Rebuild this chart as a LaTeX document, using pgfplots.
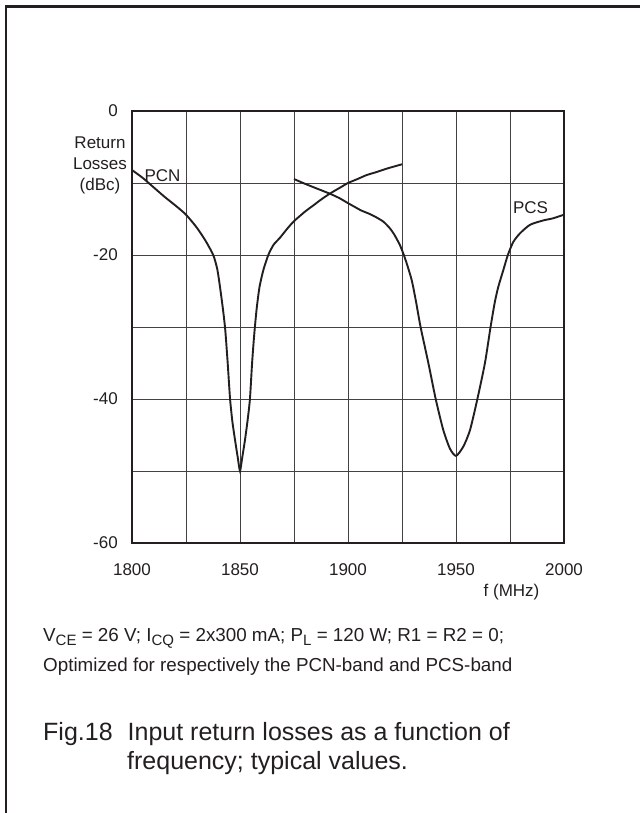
\documentclass[border=0pt]{standalone}
\usepackage{fontspec}
\setmainfont{Liberation Sans}
\usepackage{pgfplots}
\pgfplotsset{compat=1.18}
\definecolor{ink}{HTML}{231F20}
\newcommand\sub[1]{\raisebox{-0.22em}{\fontsize{15}{15}\selectfont #1}}

\begin{document}
\begin{tikzpicture}
\useasboundingbox (0pt,0pt) rectangle (640pt,813pt);
\draw[ink, line width=2.4pt] (6.2pt,0pt) -- (6.2pt,806.3pt) -- (640pt,806.3pt);
\begin{axis}[
  at={(132pt,270pt)}, anchor=south west,
  scale only axis, width=432pt, height=432pt,
  xmin=1800, xmax=2000, ymin=-60, ymax=0,
  xtick={1800,1825,...,2000}, xticklabels={1800,,1850,,1900,,1950,,2000},
  ytick={-60,-50,...,0}, yticklabels={-60,,-40,,-20,,0},
  grid=major, major grid style={ink!85, line width=0.9pt},
  major tick length=0pt,
  axis line style={ink, line width=1.8pt},
  tick label style={font=\fontsize{17}{20}\selectfont, text=ink},
  /pgf/number format/assume math mode=true,
  yticklabel style={inner sep=0pt, xshift=-14pt},
  xticklabel style={inner sep=0pt, yshift=-20pt},
]
% PCN
\addplot[ink, line width=1.9pt, smooth, tension=0.4] coordinates {
 (1800,-8.2) (1805,-9.3) (1810,-10.6) (1815,-11.9) (1820,-13.1) (1825,-14.4)
 (1830,-16.2) (1834,-18) (1837.6,-20) (1839.5,-22) (1841,-25) (1842.3,-28)
 (1843.2,-30.5) (1844.3,-35) (1845.4,-40) (1846.5,-43.2) (1847.7,-45.7)
 (1849,-48.2) (1850,-50) (1851,-48.2) (1852.3,-45.7) (1853.5,-43) (1854.6,-40)
 (1855.6,-35) (1856.6,-31) (1857.7,-27.5) (1859,-24.5) (1860.8,-22.1)
 (1863.1,-20) (1865.5,-18.6) (1868.5,-17.6) (1872,-16.3) (1875,-15.3)
 (1880,-14) (1884,-13.1) (1888,-12.2) (1892,-11.4) (1896,-10.7) (1900,-10)
 (1904,-9.5) (1908.6,-8.9) (1913,-8.5) (1918,-8.0) (1925,-7.4)
};
% PCS
\addplot[ink, line width=1.9pt, smooth, tension=0.4] coordinates {
 (1875,-9.45) (1880,-10.1) (1885,-10.7) (1891.7,-11.5) (1896,-12.1) (1900,-12.8)
 (1903,-13.3) (1906,-13.8) (1910,-14.3) (1913.3,-14.8) (1916.5,-15.4)
 (1919.4,-16.3) (1921.5,-17.2) (1924,-18.6) (1925.6,-19.8) (1927,-21)
 (1929.5,-23.5) (1931.5,-26.5) (1933.6,-30) (1937.2,-35) (1940.6,-40)
 (1944.1,-44.3) (1947.2,-46.9) (1950,-47.9) (1953.4,-46.6) (1956.5,-44.3)
 (1959.9,-40) (1963.4,-35) (1966,-30) (1968,-26.5) (1969.6,-24.4)
 (1971.9,-22.1) (1974,-20) (1976.5,-18.2) (1979.6,-17) (1984.3,-15.8)
 (1990.4,-15.2) (1995,-14.9) (2000,-14.4)
};
\end{axis}
\begin{scope}[every node/.style={inner sep=0pt, text=ink}]
\node[align=center, font=\fontsize{17}{20.7}\selectfont] at (100pt,647.7pt) {Return\\Losses\\(dBc)};
\node[font=\fontsize{17}{20}\selectfont] at (162.5pt,637.4pt) {PCN};
\node[font=\fontsize{17}{20}\selectfont] at (530.5pt,605.5pt) {PCS};
\node[font=\fontsize{17}{20}\selectfont] at (511.5pt,221pt) {f (MHz)};
\node[anchor=base west, font=\fontsize{18.8}{22}\selectfont] at (43pt,171.3pt)
  {V\sub{CE} = 26 V; I\sub{CQ} = 2x300 mA; P\sub{L} = 120 W; R1 = R2 = 0;};
\node[anchor=base west, font=\fontsize{18.8}{22}\selectfont] at (43pt,141.3pt)
  {Optimized for respectively the PCN-band and PCS-band};
\node[anchor=base west, font=\fontsize{25}{29}\selectfont] at (43pt,72.3pt) {Fig.18};
\node[anchor=base west, font=\fontsize{25}{29}\selectfont] at (127.5pt,72.3pt) {Input return losses as a function of};
\node[anchor=base west, font=\fontsize{25}{29}\selectfont] at (127pt,43pt) {frequency; typical values.};
\end{scope}
\end{tikzpicture}
\end{document}
